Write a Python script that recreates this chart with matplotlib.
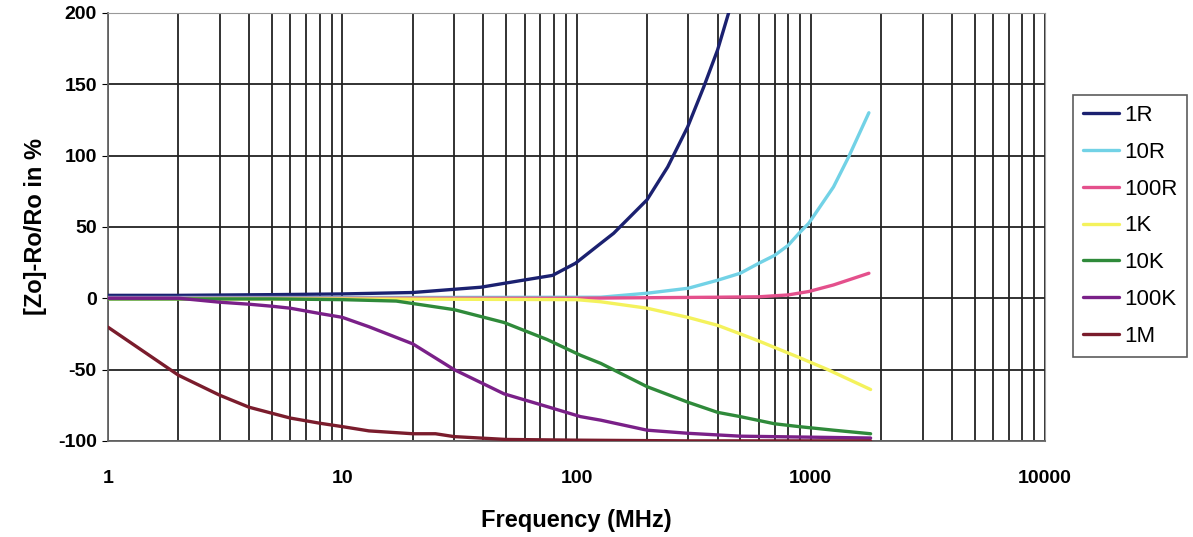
import numpy as np
import matplotlib as mlp
mlp.use("Agg")
import matplotlib.pyplot as plt
from matplotlib.ticker import FixedLocator, LogLocator, NullFormatter

plt.rcParams['font.family'] = ['Liberation Sans', 'DejaVu Sans']
plt.rcParams['axes.unicode_minus'] = False

# frequency (MHz) and |Zo|-Ro/Ro (%) for each resistor value
f_1r = [1, 2, 5, 10, 20, 39, 59, 79, 99, 127, 144, 200, 245, 298, 349, 400, 446]
y_1r = [2, 2, 2.5, 3, 4, 7.7, 12.6, 16, 24.5, 38.5, 45.5, 69, 92, 120, 148, 174, 200]

f_10r = [1, 10, 50, 127, 200, 300, 400, 500, 600, 700, 800, 890, 980, 1250, 1450, 1770]
y_10r = [0.5, 0.5, 0.6, 0.7, 3.5, 7, 12.6, 17.5, 24.5, 30, 37, 45.5, 52.5, 78, 99, 130]

f_100r = [1, 10, 100, 400, 600, 800, 980, 1250, 1770]
y_100r = [0, 0, 0, 0.7, 1, 2.3, 4.7, 9.3, 17.5]

f_1k = [1, 10, 100, 127, 200, 300, 400, 500, 600, 700, 890, 1180, 1800]
y_1k = [-0.5, -0.5, -1, -2.5, -7, -13.5, -19, -25, -30, -34.5, -41.5, -50, -64]

f_10k = [1, 5, 10, 17, 30, 49, 75, 104, 127, 200, 300, 400, 500, 700, 890, 1250, 1800]
y_10k = [-0.5, -0.5, -1, -2, -8, -17, -29, -40, -45.7, -62, -73, -80, -83, -88, -90, -92.5, -95]

f_100k = [1, 2, 3, 4, 5, 6, 8, 10, 13, 20, 30, 49, 75, 104, 127, 200, 300, 500, 1800]
y_100k = [0, 0, -2.8, -4.2, -5.6, -7, -10.7, -13.4, -20, -32, -50, -67, -76, -83, -85.5, -92.5, -94.7, -96.7, -98]

f_1m = [1, 2, 3, 4, 5, 6, 8, 10, 13, 20, 25, 30, 50, 100, 300, 1000, 1800]
y_1m = [-20.3, -54, -68, -76.4, -80.6, -84, -87.6, -90, -93, -95, -95, -97, -99, -99.5, -100, -100, -100]

series = [
    ("1R", f_1r, y_1r, "#1b2170"),
    ("10R", f_10r, y_10r, "#72d2e6"),
    ("100R", f_100r, y_100r, "#e4508c"),
    ("1K", f_1k, y_1k, "#f4f25c"),
    ("10K", f_10k, y_10k, "#2f8a3a"),
    ("100K", f_100k, y_100k, "#7a2088"),
    ("1M", f_1m, y_1m, "#7a1c2c"),
]

fig = plt.figure(figsize=(11.93, 5.37), dpi=100)
ax = fig.add_axes([0.0905, 0.179, 0.7855, 0.797])

for name, fx, fy, col in series:
    ax.plot(fx, fy, color=col, lw=2.4, label=name, zorder=3,
            solid_joinstyle="round", solid_capstyle="round")

ax.set_xscale("log")
ax.set_xlim(1, 10000)
ax.set_ylim(-100, 200)
ax.set_yticks([-100, -50, 0, 50, 100, 150, 200])
ax.xaxis.set_major_locator(FixedLocator([1, 10, 100, 1000, 10000]))
ax.set_xticklabels(["1", "10", "100", "1000", "10000"])
ax.xaxis.set_minor_locator(LogLocator(base=10, subs=np.arange(2, 10)))
ax.xaxis.set_minor_formatter(NullFormatter())

ax.grid(True, which="both", axis="x", color="#222222", lw=1.3)
ax.grid(True, which="major", axis="y", color="#222222", lw=1.3)

for s in ["top", "right"]:
    ax.spines[s].set_color("#999999")
for s in ["left", "bottom"]:
    ax.spines[s].set_color("#666666")
    ax.spines[s].set_linewidth(1.3)

ax.tick_params(axis="x", which="both", length=0, pad=21, labelsize=14)
ax.tick_params(axis="y", length=4, labelsize=14, pad=4)
for lbl in ax.get_xticklabels() + ax.get_yticklabels():
    lbl.set_fontweight("bold")

ax.set_xlabel("Frequency (MHz)", fontsize=17, fontweight="bold", labelpad=16)
ax.set_ylabel("[Zo]-Ro/Ro in %", fontsize=17, fontweight="bold", labelpad=8)

leg = ax.legend(loc="upper left", bbox_to_anchor=(0.8994, 0.823), bbox_transform=fig.transFigure,
                frameon=True, fancybox=False, edgecolor="#333333", fontsize=16,
                handlelength=1.6, handletextpad=0.25, labelspacing=0.71, borderpad=0.45,
                borderaxespad=0)
leg.get_frame().set_linewidth(1.2)

fig.savefig("out.png", dpi=100)
